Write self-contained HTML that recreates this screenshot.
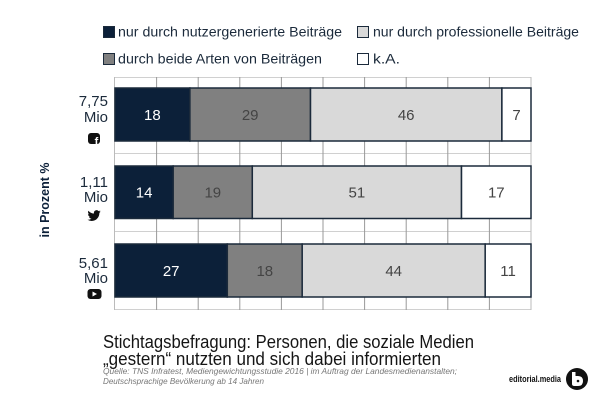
<!DOCTYPE html>
<html>
<head>
<meta charset="utf-8">
<style>
html,body{margin:0;padding:0;background:#fff;}
svg{display:block;}
text{font-family:"Liberation Sans","DejaVu Sans",sans-serif;}
</style>
</head>
<body>
<svg width="601" height="400" viewBox="0 0 601 400" xmlns="http://www.w3.org/2000/svg">
<rect x="0" y="0" width="601" height="400" fill="#fff"/>

<!-- Legend -->
<rect x="103.5" y="26.5" width="11" height="11" fill="#0c2039" stroke="#1b2a3b" stroke-width="1"/>
<text x="118" y="36.5" font-size="14" fill="#1b2a3b" textLength="224" lengthAdjust="spacingAndGlyphs">nur durch nutzergenerierte Beiträge</text>
<rect x="357.5" y="26.5" width="11" height="11" fill="#d9d9d9" stroke="#1b2a3b" stroke-width="1"/>
<text x="373" y="36.5" font-size="14" fill="#1b2a3b" textLength="206" lengthAdjust="spacingAndGlyphs">nur durch professionelle Beiträge</text>
<rect x="103.5" y="53.5" width="11" height="11" fill="#808080" stroke="#1b2a3b" stroke-width="1"/>
<text x="118" y="63.5" font-size="14" fill="#1b2a3b" textLength="204" lengthAdjust="spacingAndGlyphs">durch beide Arten von Beiträgen</text>
<rect x="357.5" y="53.5" width="11" height="11" fill="#fff" stroke="#1b2a3b" stroke-width="1"/>
<text x="373" y="63.5" font-size="14" fill="#1b2a3b" textLength="27" lengthAdjust="spacingAndGlyphs">k.A.</text>

<!-- Grid -->
<g stroke="#d0d0d0" stroke-width="1">
<line x1="114.5" y1="77.5" x2="531" y2="77.5"/>
<line x1="114.5" y1="153.5" x2="531" y2="153.5"/>
<line x1="114.5" y1="231.5" x2="531" y2="231.5"/>
<line x1="114.5" y1="309.5" x2="531" y2="309.5"/>
</g>
<g stroke="#999" stroke-width="1">
<line x1="114.5" y1="77" x2="114.5" y2="310" stroke="#bbb"/>
<line x1="156.6" y1="77" x2="156.6" y2="310"/>
<line x1="198.2" y1="77" x2="198.2" y2="310"/>
<line x1="239.8" y1="77" x2="239.8" y2="310"/>
<line x1="281.4" y1="77" x2="281.4" y2="310"/>
<line x1="323" y1="77" x2="323" y2="310"/>
<line x1="364.6" y1="77" x2="364.6" y2="310"/>
<line x1="406.2" y1="77" x2="406.2" y2="310"/>
<line x1="447.8" y1="77" x2="447.8" y2="310"/>
<line x1="489.4" y1="77" x2="489.4" y2="310"/>
<line x1="531" y1="77" x2="531" y2="310" stroke="#bbb"/>
</g>

<!-- Bars -->
<g stroke="#1b2a3b" stroke-width="1.5">
<!-- Bar 1 -->
<rect x="115" y="88" width="74.9" height="53" fill="#0c2039"/>
<rect x="189.9" y="88" width="120.6" height="53" fill="#808080"/>
<rect x="310.5" y="88" width="191.4" height="53" fill="#d9d9d9"/>
<rect x="501.9" y="88" width="29.1" height="53" fill="#fff"/>
<!-- Bar 2 -->
<rect x="115" y="166" width="58.2" height="52.5" fill="#0c2039"/>
<rect x="173.2" y="166" width="79.1" height="52.5" fill="#808080"/>
<rect x="252.3" y="166" width="209.2" height="52.5" fill="#d9d9d9"/>
<rect x="461.5" y="166" width="69.5" height="52.5" fill="#fff"/>
<!-- Bar 3 -->
<rect x="115" y="244" width="112.3" height="53" fill="#0c2039"/>
<rect x="227.3" y="244" width="74.9" height="53" fill="#808080"/>
<rect x="302.2" y="244" width="183" height="53" fill="#d9d9d9"/>
<rect x="485.2" y="244" width="45.8" height="53" fill="#fff"/>
</g>

<!-- Bar values -->
<g font-size="15" text-anchor="middle">
<text x="152.4" y="120" fill="#fff">18</text>
<text x="250.2" y="120" fill="#444">29</text>
<text x="406.2" y="120" fill="#444">46</text>
<text x="516.5" y="120" fill="#444">7</text>
<text x="144.1" y="197.5" fill="#fff">14</text>
<text x="212.8" y="197.5" fill="#444">19</text>
<text x="356.9" y="197.5" fill="#444">51</text>
<text x="496.3" y="197.5" fill="#444">17</text>
<text x="171.2" y="276" fill="#fff">27</text>
<text x="264.8" y="276" fill="#444">18</text>
<text x="393.7" y="276" fill="#444">44</text>
<text x="508.1" y="276" fill="#444">11</text>
</g>

<!-- Category labels -->
<g font-size="15" text-anchor="end" fill="#1b2a3b">
<text x="108" y="106">7,75</text>
<text x="108" y="122">Mio</text>
<text x="108" y="187">1,11</text>
<text x="108" y="202">Mio</text>
<text x="108" y="268">5,61</text>
<text x="108" y="283">Mio</text>
</g>
<!-- Facebook icon -->
<rect x="88" y="133" width="12" height="11" rx="3" fill="#111"/>
<text x="96.5" y="145" font-size="11" font-weight="bold" fill="#fff" text-anchor="middle">f</text>
<!-- Twitter icon -->
<path transform="translate(87.5,209) scale(0.55)" fill="#111" d="M23.95 4.57a10 10 0 0 1-2.82.77 4.96 4.96 0 0 0 2.16-2.72c-.95.56-2 .96-3.12 1.19a4.92 4.92 0 0 0-8.38 4.48A13.94 13.94 0 0 1 1.64 3.16a4.92 4.92 0 0 0 1.52 6.57 4.9 4.9 0 0 1-2.23-.61v.06a4.92 4.92 0 0 0 3.95 4.830 4.9 4.9 0 0 1-2.22.08 4.93 4.93 0 0 0 4.6 3.42A9.87 9.870 0 0 1 0 19.54a13.94 13.94 0 0 0 7.55 2.21c9.05 0 14-7.5 14-13.98 0-.21 0-.42-.02-.63A9.94 9.94 0 0 0 24 4.59z"/>
<!-- YouTube icon -->
<rect x="87.5" y="289" width="14" height="10" rx="3" fill="#111"/>
<polygon points="92.5,291.5 92.5,296.5 97,294" fill="#fff"/>

<!-- Y axis title -->
<text transform="translate(49,200) rotate(-90)" font-size="13" font-weight="bold" fill="#0c2039" text-anchor="middle" textLength="75" lengthAdjust="spacingAndGlyphs">in Prozent %</text>

<!-- Title -->
<text x="103" y="348" font-size="18" fill="#151515" textLength="371" lengthAdjust="spacingAndGlyphs">Stichtagsbefragung: Personen, die soziale Medien</text>
<text x="103" y="365" font-size="18" fill="#151515" textLength="338" lengthAdjust="spacingAndGlyphs">„gestern“ nutzten und sich dabei informierten</text>

<!-- Source -->
<text x="103" y="374" font-size="8.5" font-style="italic" fill="#777" textLength="354" lengthAdjust="spacingAndGlyphs">Quelle: TNS Infratest, Mediengewichtungsstudie 2016 | im Auftrag der Landesmedienanstalten;</text>
<text x="103" y="384" font-size="8.5" font-style="italic" fill="#777" textLength="161" lengthAdjust="spacingAndGlyphs">Deutschsprachige Bevölkerung ab 14 Jahren</text>

<!-- editorial.media -->
<text x="509" y="382" font-size="9" font-weight="bold" fill="#111" textLength="52" lengthAdjust="spacingAndGlyphs">editorial.media</text>
<circle cx="577" cy="379" r="11" fill="#111"/>
<path d="M572 372 L572 384 Q572 386 574.5 386 L578 386 Q583 386 583 381 Q583 376 578 376 L575.5 376 L575.5 372 Z" fill="#fff"/>
<circle cx="578" cy="381" r="1.3" fill="#111"/>
</svg>
</body>
</html>
